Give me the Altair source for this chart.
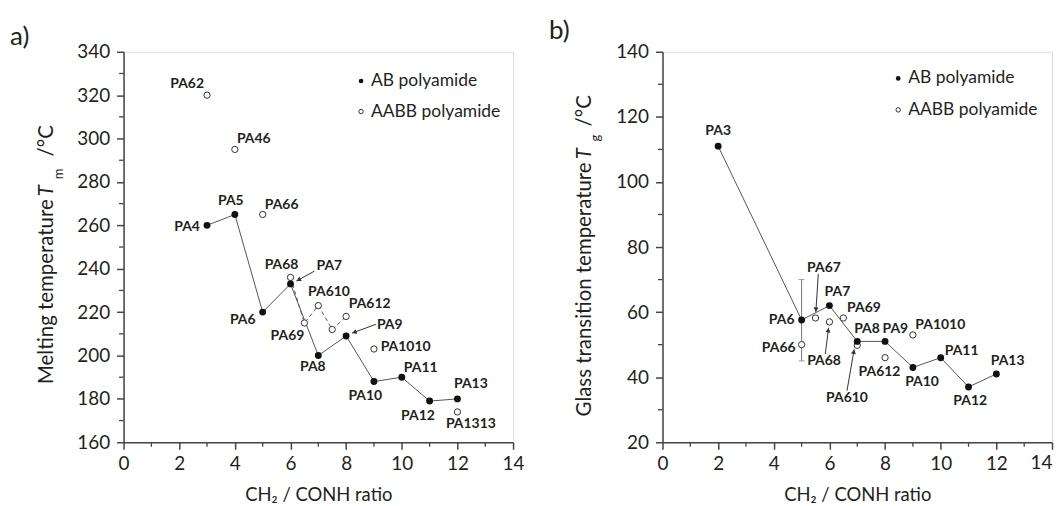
import math
import altair as alt
import pandas as pd

FONT = "Lato"
INK = "#231f20"
AX = "#444444"
LINE = "#555555"

# ---------------- data: panel a) melting temperature ----------------
tm_ab_names = ["PA4", "PA5", "PA6", "PA7", "PA8", "PA9", "PA10", "PA11", "PA12", "PA13"]
tm_ab_x = [3, 4, 5, 6, 7, 8, 9, 10, 11, 12]
tm_ab_y = [260, 265, 220, 233, 200, 209, 188, 190, 179, 180]

tm_aabb_names = ["PA62", "PA46", "PA66", "PA68", "PA69", "PA610", "PA611", "PA612", "PA1010", "PA1313"]
tm_aabb_x = [3, 4, 5, 6, 6.5, 7, 7.5, 8, 9, 12]
tm_aabb_y = [320, 295, 265, 236, 215, 223, 212, 218, 203, 174]
tm_aabb_labels = ["PA62", "PA46", "PA66", "PA68", "PA69", "PA610", "", "PA612", "PA1010", "PA1313"]
tm_dashed = ["PA68", "PA69", "PA610", "PA611", "PA612"]

# ---------------- data: panel b) glass transition temperature ----------------
tg_ab_names = ["PA3", "PA6", "PA7", "PA8", "PA9", "PA10", "PA11", "PA12", "PA13"]
tg_ab_x = [2, 5, 6, 7, 8, 9, 10, 11, 12]
tg_ab_y = [111, 57.6, 62, 51, 51, 43, 46, 37, 41]

tg_aabb_names = ["PA66", "PA67", "PA68", "PA69", "PA610", "PA612", "PA1010"]
tg_aabb_x = [5, 5.5, 6, 6.5, 7, 8, 9]
tg_aabb_y = [50, 58.2, 57, 58.2, 49.8, 46, 53]
tg_aabb_labels = ["PA66", "PA67", "PA68", "PA69", "PA610", "PA612", "PA1010"]

tg_err_x = [5]
tg_err_lo = [45]
tg_err_hi = [70]

# annotation arrows (data units): start -> end
tm_arrow_x1 = [6.86, 9.07]
tm_arrow_y1 = [238.9, 214.4]
tm_arrow_x2 = [6.21, 8.21]
tm_arrow_y2 = [234.3, 210.3]

tg_arrow_x1 = [5.60, 5.85, 6.63]
tg_arrow_y1 = [71.7, 47.1, 35.8]
tg_arrow_x2 = [5.51, 5.97, 6.89]
tg_arrow_y2 = [60.0, 55.2, 48.6]

# axes ticks
x_ticks = [0, 2, 4, 6, 8, 10, 12, 14]
x_minor = [1, 3, 5, 7, 9, 11, 13]
tm_ticks = [160, 180, 200, 220, 240, 260, 280, 300, 320, 340]
tm_minor = [170, 190, 210, 230, 250, 270, 290, 310, 330]
tg_ticks = [20, 40, 60, 80, 100, 120, 140]
tg_minor = [30, 50, 70, 90, 110, 130]

legend_labels = ["AB polyamide", "AABB polyamide"]

# ---------------- layout (pixels) ----------------
W, H = 391, 392

# label offsets from their points (pixels): name -> (dx, dy)
tm_offsets = {
    "PA4": (-20, 1.5), "PA5": (-4, -13.5), "PA6": (-20, 8.3), "PA7": (39, -18),
    "PA8": (-5.5, 12), "PA9": (43.8, -11.4), "PA10": (-8.7, 14.7), "PA11": (19, -9),
    "PA12": (-11.7, 15.2), "PA13": (13.5, -15),
    "PA62": (-20, -11), "PA46": (19, -10), "PA66": (19, -10), "PA68": (-9, -12.6),
    "PA69": (-17, 13.4), "PA610": (10.7, -14), "PA611": (0, 0), "PA612": (23.6, -12),
    "PA1010": (31.8, -2.3), "PA1313": (13.5, 12.6),
}
tg_offsets = {
    "PA3": (0, -15), "PA6": (-20, 0), "PA7": (8, -13.3), "PA8": (9.8, -12),
    "PA9": (10.3, -12), "PA10": (9.2, 14.7), "PA11": (21, -6.7), "PA12": (1.7, 14.6),
    "PA13": (11.3, -13.4),
    "PA66": (-23, 3.3), "PA67": (8.5, -50.3), "PA68": (-5.4, 39.4), "PA69": (20.7, -10.3),
    "PA610": (-10.3, 52.5), "PA612": (-5.6, 14.8), "PA1010": (27.5, -10.2),
}

ONE = pd.DataFrame({"k": [0]})


def build_panel(ab, aabb, dashed, offsets, arrows, ydom, yticks, yminor,
                title_parts, panel_label, panel_pos, legend_pos, err=None, tuck_last=False):
    xs = alt.Scale(domain=[0, 14], nice=False, zero=False)
    ys = alt.Scale(domain=ydom, nice=False, zero=False)
    common = dict(grid=False, tickSize=7, tickWidth=1.5, tickColor=AX, domainColor=AX,
                  domainWidth=1.5, labelFont=FONT, labelFontSize=19, labelColor=INK,
                  labelFlush=False, format="d")
    xextra = {}
    if tuck_last:
        xextra["labelExpr"] = "datum.value == 14 ? '' : datum.label"
    xaxis = alt.Axis(values=x_ticks, labelPadding=5, title="CH₂ / CONH ratio",
                     titleFont=FONT, titleFontSize=18.5, titleFontWeight="normal",
                     titleColor=INK, titleBaseline="alphabetic", titleY=58, **common, **xextra)
    yaxis = alt.Axis(values=yticks, labelPadding=7, title="", **common)

    def X(f):
        return alt.X(f"{f}:Q", scale=xs, axis=xaxis)

    def Y(f):
        return alt.Y(f"{f}:Q", scale=ys, axis=yaxis)

    sx = W / 14.0
    sy = H / float(ydom[1] - ydom[0])

    ab_df = pd.DataFrame({"name": ab[0], "x": ab[1], "y": ab[2]})
    aabb_df = pd.DataFrame({"name": aabb[0], "x": aabb[1], "y": aabb[2], "lab": aabb[3]})
    dash_df = aabb_df[aabb_df["name"].isin(dashed)]

    lab_df = pd.concat([
        pd.DataFrame({"lab": ab[0], "x": ab[1], "y": ab[2]}),
        pd.DataFrame({"lab": aabb[3], "x": aabb[1], "y": aabb[2]}),
    ], ignore_index=True)
    names_all = list(ab[0]) + list(aabb[0])
    # label anchor = point shifted by its pixel offset (converted through the scale factor)
    lab_df["lx"] = [x + offsets[n][0] / sx for x, n in zip(lab_df["x"], names_all)]
    lab_df["ly"] = [y - offsets[n][1] / sy for y, n in zip(lab_df["y"], names_all)]
    lab_df = lab_df[lab_df["lab"] != ""]

    layers = []
    layers.append(alt.Chart(ab_df).mark_line(color=LINE, strokeWidth=1).encode(
        x=X("x"), y=Y("y"), order="x:Q"))
    if len(dash_df):
        layers.append(alt.Chart(dash_df).mark_line(color=LINE, strokeWidth=1, strokeDash=[4, 3]).encode(
            x=X("x"), y=Y("y"), order="x:Q"))

    # minor ticks
    layers.append(alt.Chart(pd.DataFrame({"v": yminor})).mark_rule(color=AX, strokeWidth=1.3).encode(
        y=Y("v"), x=alt.value(-4.5), x2=alt.value(0)))
    layers.append(alt.Chart(pd.DataFrame({"v": x_minor})).mark_rule(color=AX, strokeWidth=1.3).encode(
        x=X("v"), y=alt.value(H), y2=alt.value(H + 4.5)))

    # last x tick label drawn right-aligned so it stays inside the page
    if tuck_last:
        layers.append(alt.Chart(pd.DataFrame({"v": [14], "t": ["14"]})).mark_text(
            font=FONT, fontSize=19, color=INK, align="right", baseline="top", dx=0.5).encode(
            x=X("v"), y=alt.value(H + 12), text="t:N"))

    # error bar
    if err is not None:
        edf = pd.DataFrame({"x": err[0], "lo": err[1], "hi": err[2]})
        layers.append(alt.Chart(edf).mark_rule(color="#777777", strokeWidth=1).encode(
            x=X("x"), y=Y("lo"), y2="hi:Q"))
        for col in ["lo", "hi"]:
            layers.append(alt.Chart(edf).mark_tick(orient="horizontal", size=6, thickness=1,
                                                   color="#777777").encode(x=X("x"), y=Y(col)))

    # arrows
    x1, y1, x2, y2 = arrows
    adf = pd.DataFrame({"x1": x1, "y1": y1, "x2": x2, "y2": y2})
    angs, hx, hy = [], [], []
    for a, b, c, d in zip(x1, y1, x2, y2):
        dxp = (c - a) * sx
        dyp = -(d - b) * sy
        L = math.hypot(dxp, dyp)
        angs.append(math.degrees(math.atan2(dxp, -dyp)) % 360)
        hx.append(c - 2.5 * dxp / L / sx)
        hy.append(d + 2.5 * dyp / L / sy)
    adf["ang"] = angs
    adf["hx"] = hx
    adf["hy"] = hy
    layers.append(alt.Chart(adf).mark_rule(color="#333333", strokeWidth=1).encode(
        x=X("x1"), y=Y("y1"), x2="x2:Q", y2="y2:Q"))
    layers.append(alt.Chart(adf).mark_point(shape="triangle-up", filled=True, size=26,
                                            color="#333333", opacity=1).encode(
        x=X("hx"), y=Y("hy"), angle=alt.Angle("ang:Q", scale=None)))

    # points
    layers.append(alt.Chart(aabb_df).mark_point(shape="circle", size=40, filled=False, fill="white",
                                                stroke="#333333", strokeWidth=1, opacity=1).encode(
        x=X("x"), y=Y("y")))
    layers.append(alt.Chart(ab_df).mark_point(shape="circle", size=48, filled=True,
                                              color="#111111", opacity=1).encode(
        x=X("x"), y=Y("y")))

    # point labels
    layers.append(alt.Chart(lab_df).mark_text(font=FONT, fontWeight="bold", fontSize=14, color=INK,
                                              align="center", baseline="middle").encode(
        x=X("lx"), y=Y("ly"), text="lab:N"))

    # legend
    lx, ly0, ly1 = legend_pos
    layers.append(alt.Chart(ONE).mark_point(shape="circle", size=22, filled=True, color="#111111",
                                            opacity=1).encode(x=alt.value(lx), y=alt.value(ly0)))
    layers.append(alt.Chart(ONE).mark_point(shape="circle", size=20, filled=False, fill="white",
                                            stroke="#333333", strokeWidth=1, opacity=1).encode(
        x=alt.value(lx), y=alt.value(ly1)))
    for lbl, yy in zip(legend_labels, [ly0, ly1]):
        layers.append(alt.Chart(pd.DataFrame({"t": [lbl]})).mark_text(
            font=FONT, fontSize=17.5, color=INK, align="left", baseline="middle").encode(
            x=alt.value(lx + 10), y=alt.value(yy), text="t:N"))

    # rotated y-axis title in pieces (normal text, italic symbol, subscript, unit)
    for txt, px, py, size, align, style in title_parts:
        layers.append(alt.Chart(ONE).mark_text(
            text=txt, angle=270, align=align, baseline="alphabetic", font=FONT,
            fontSize=size, fontStyle=style, color=INK).encode(
            x=alt.value(px), y=alt.value(py)))

    # panel letter
    layers.append(alt.Chart(ONE).mark_text(
        text=panel_label, align="left", baseline="top", font=FONT, fontSize=26, color=INK).encode(
        x=alt.value(panel_pos[0]), y=alt.value(panel_pos[1])))

    return alt.layer(*layers).properties(width=W, height=H)


left = build_panel(
    (tm_ab_names, tm_ab_x, tm_ab_y),
    (tm_aabb_names, tm_aabb_x, tm_aabb_y, tm_aabb_labels),
    tm_dashed, tm_offsets,
    (tm_arrow_x1, tm_arrow_y1, tm_arrow_x2, tm_arrow_y2),
    [160, 340], tm_ticks, tm_minor,
    [("Melting temperature", -71, 148, 20.5, "right", "normal"),
     ("T", -71, 145, 20.5, "left", "italic"),
     ("m", -61, 128, 13, "left", "normal"),
     ("/°C", -71, 105, 20.5, "left", "normal")],
    "a)", (-114, -28), (238.4, 29.3, 60),
)

right = build_panel(
    (tg_ab_names, tg_ab_x, tg_ab_y),
    (tg_aabb_names, tg_aabb_x, tg_aabb_y, tg_aabb_labels),
    [], tg_offsets,
    (tg_arrow_x1, tg_arrow_y1, tg_arrow_x2, tg_arrow_y2),
    [20, 140], tg_ticks, tg_minor,
    [("Glass transition temperature", -71.5, 111, 20.5, "right", "normal"),
     ("T", -71.5, 108, 20.5, "left", "italic"),
     ("g", -63, 90, 13, "left", "normal"),
     ("/°C", -71.5, 75, 20.5, "left", "normal")],
    "b)", (-114, -34), (236.6, 26.7, 58.3),
    err=(tg_err_x, tg_err_lo, tg_err_hi), tuck_last=True,
)

chart = alt.hconcat(left, right, spacing=23).properties(
    padding={"left": 1, "top": 8, "right": 0, "bottom": 0}
).configure_view(stroke=AX, strokeWidth=1.5).configure(background="white")

chart.save("out.html", embed_options={"renderer": "svg", "actions": False})
